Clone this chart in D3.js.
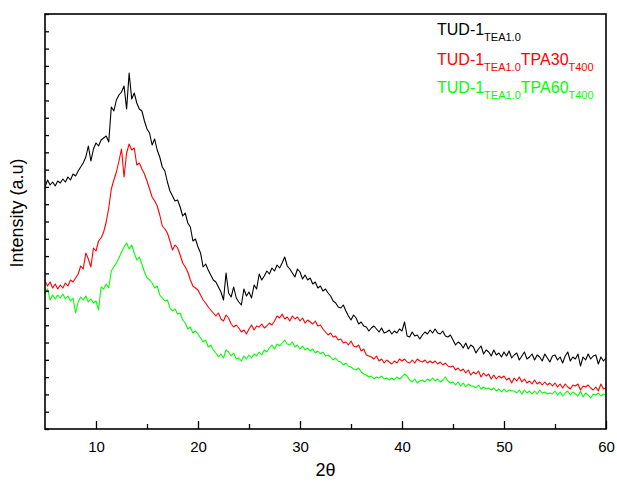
<!DOCTYPE html>
<html>
<head>
<meta charset="utf-8">
<script src="https://cdn.jsdelivr.net/npm/d3@7"></script>
<style>
  body { margin: 0; background: #fff; }
  svg { display: block; font-family: Arial, "Liberation Sans", sans-serif; }
</style>
</head>
<body>
<div id="plot"></div>
<script>
// 2theta grid: 5 to 60 in 0.25 steps
const twoThetaStart = 5;
const twoThetaStep = 0.25;

const seriesNames = ["TUD-1 TEA1.0", "TUD-1 TEA1.0 TPA30 T400", "TUD-1 TEA1.0 TPA60 T400"];
const seriesColors = ["#000000", "#ff0000", "#00ff00"];

const xTicks = [10, 20, 30, 40, 50, 60];
const xMinorTicks = [15, 25, 35, 45, 55];

const black = [
  242,249,244,247, 243,248,246,250, 247,252,249,255, 253,258,262,266, 272,283,268,280,
  286,283,289,291, 293,287,322,318, 329,334,337,343, 320,356,330,336, 326,320,318,308,
  300,296,284,290, 279,272,262,258, 247,238,233,228, 229,222,213,216, 206,202,188,190,
  182,176,162,165, 159,154,149,147, 142,137,129,156, 136,132,142,131, 127,124,140,133,
  137,131,144,140, 155,149,153,158, 155,161,158,164, 161,166,172,163, 160,156,152,160,
  157,150,154,149, 151,145,147,141, 143,138,140,136, 133,128,126,122, 121,124,118,113,
  109,114,111,105, 107,103,102,98, 101,103,100,97, 101,96,97,99, 95,98,96,100,
  98,107,93,92, 97,93,94,90, 94,97,95,99, 96,100,96,95, 98,93,92,94,
  89,84,87,85, 81,86,80,84, 82,76,80,83, 75,79,77,73, 79,74,76,72,
  77,73,78,71, 74,76,69,73, 77,70,72,75, 69,74,72,68, 75,71,67,73,
  74,69,72,66, 73,77,68,72, 70,75,63,72, 69,75,70,73, 74,65,72,68, 71
];

const red = [
  148,143,147,141, 145,140,144,141, 146,143,149,147, 151,155,163,160, 176,170,162,181,
  178,188,191,197, 207,221,240,249, 257,268,280,252, 276,285,279,281, 264,266,260,255,
  248,240,232,228, 223,214,203,200, 196,188,179,184, 181,174,166,162, 157,149,143,141,
  139,134,129,126, 122,119,116,113, 116,110,108,114, 111,105,102,104, 101,97,99,95,
  100,104,99,103, 102,105,101,103, 106,104,108,113, 111,115,110,112, 108,113,110,112,
  108,111,106,109, 107,105,108,103, 104,100,97,94, 96,92,93,89, 90,86,87,84,
  88,83,82,84, 78,80,74,73, 72,70,73,68, 70,66,69,67, 65,68,66,70,
  68,70,67,66, 69,66,70,68, 67,69,66,68, 66,68,65,67, 64,66,63,62,
  63,59,61,58, 60,56,59,54, 57,55,58,52, 56,53,55,50, 54,50,53,51,
  53,49,51,46, 51,48,52,47, 50,46,48,45, 49,45,47,44, 47,44,46,43,
  46,42,45,41, 45,42,40,44, 43,45,39,43, 42,44,41,39, 42,38,45,40, 41
];

const green = [
  135,140,129,134, 130,134,131,135, 130,133,128,131, 116,127,132,129, 133,127,130,126,
  128,119,142,140, 145,141,158,162, 166,171,177,182, 186,180,184,176, 169,172,165,157,
  151,149,146,141, 143,134,131,128, 129,121,118,120, 115,116,109,106, 100,102,96,98,
  95,91,87,89, 82,84,79,76, 72,75,71,79, 77,73,76,70, 71,68,73,70,
  74,71,75,73, 77,74,79,77, 81,84,80,85, 83,86,89,85, 84,87,82,84,
  80,83,79,81, 78,80,76,78, 75,77,73,74, 72,69,71,68, 67,64,66,63,
  62,60,59,61, 57,55,54,52, 53,50,52,51, 53,50,51,49, 51,49,52,50,
  52,55,53,49, 47,50,46,48, 49,47,50,48, 51,48,50,47, 49,52,48,46,
  47,44,47,43, 46,42,45,43, 43,41,44,40, 42,40,41,39, 41,38,40,37,
  40,37,39,38, 38,36,39,35, 39,36,38,35, 38,35,39,36, 37,35,36,35,
  38,34,37,33, 36,38,34,37, 35,33,38,32, 36,34,31,35, 34,36,33,35, 34
];

drawPlot();

function drawPlot() {
  const width = 617;
  const height = 482;
  const left = 45, right = 606, top = 14, bottom = 429;

  const svg = d3
    .select("#plot")
    .append("svg")
    .attr("width", width)
    .attr("height", height);

  const x = d3.scaleLinear().domain([5, 60]).range([left, right]);
  const y = d3.scaleLinear().domain([0, 415]).range([bottom, top]);

  svg.append("defs")
    .append("clipPath")
    .attr("id", "clip")
    .append("rect")
    .attr("x", left)
    .attr("y", top)
    .attr("width", right - left)
    .attr("height", bottom - top);

  const line = d3
    .line()
    .x((d, i) => x(twoThetaStart + i * twoThetaStep))
    .y((d) => y(d));

  [black, red, green].forEach((s, k) => {
    svg
      .append("path")
      .datum(s)
      .attr("clip-path", "url(#clip)")
      .attr("fill", "none")
      .attr("stroke", seriesColors[k])
      .attr("stroke-width", 1.1)
      .attr("stroke-linejoin", "round")
      .attr("d", line);
  });

  // x axis, ticks pointing inward
  const xAxis = d3
    .axisBottom(x)
    .tickValues(xTicks)
    .tickSize(-8)
    .tickSizeOuter(0)
    .tickPadding(12)
    .tickFormat(d3.format("d"));

  const gx = svg
    .append("g")
    .attr("transform", `translate(0, ${bottom})`)
    .call(xAxis);
  gx.selectAll("text").style("font-size", "15px").attr("fill", "#000");

  svg
    .append("g")
    .attr("transform", `translate(0, ${bottom})`)
    .call(d3.axisBottom(x).tickValues(xMinorTicks).tickSize(-5).tickSizeOuter(0).tickFormat(""));

  // y axis: unlabeled ticks, inward
  const yTicks = d3.range(25).map((i) => (i * 415) / 24);
  svg
    .append("g")
    .attr("transform", `translate(${left}, 0)`)
    .call(d3.axisLeft(y).tickValues(yTicks).tickSize(-4).tickSizeOuter(0).tickFormat(""));

  svg.selectAll(".tick line").attr("stroke", "#000").attr("stroke-width", 1.3);
  svg.selectAll(".domain").remove();

  // frame
  svg
    .append("rect")
    .attr("x", left)
    .attr("y", top)
    .attr("width", right - left)
    .attr("height", bottom - top)
    .attr("fill", "none")
    .attr("stroke", "#000")
    .attr("stroke-width", 1.6);

  svg
    .append("text")
    .attr("x", (left + right) / 2)
    .attr("y", 476)
    .attr("text-anchor", "middle")
    .style("font-size", "18px")
    .text("2θ");

  svg
    .append("text")
    .attr("transform", `translate(23, ${213}) rotate(-90)`)
    .attr("text-anchor", "middle")
    .style("font-size", "18px")
    .text("Intensity (a.u)");

  // legend
  const legend = svg.append("g").attr("transform", "translate(437, 0)");
  const rows = [
    [["TUD-1", false], ["TEA1.0", true]],
    [["TUD-1", false], ["TEA1.0", true], ["TPA30", false], ["T400", true]],
    [["TUD-1", false], ["TEA1.0", true], ["TPA60", false], ["T400", true]],
  ];
  const baselines = [35, 65, 93];
  rows.forEach((parts, k) => {
    const t = legend
      .append("text")
      .attr("x", 0)
      .attr("y", baselines[k])
      .attr("fill", seriesColors[k])
      .style("font-size", "16px");
    let sub = false;
    parts.forEach(([str, isSub]) => {
      t.append("tspan")
        .attr("dy", isSub === sub ? 0 : isSub ? 6 : -6)
        .style("font-size", isSub ? "11px" : "16px")
        .text(str);
      sub = isSub;
    });
  });
}
</script>
</body>
</html>
